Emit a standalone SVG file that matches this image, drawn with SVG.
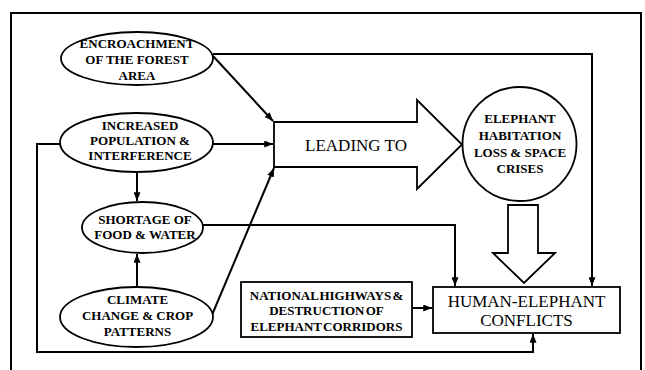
<svg xmlns="http://www.w3.org/2000/svg" width="645" height="370" viewBox="0 0 645 370">
<style>
.sh{fill:#fff;stroke:#000;stroke-width:1.8}
.t{font-family:"Liberation Serif","Times New Roman",serif;font-weight:bold;font-size:13px;text-anchor:middle;fill:#000}
.tn{font-family:"Liberation Serif","Times New Roman",serif;font-size:17px;text-anchor:middle;fill:#000}
.c{fill:none;stroke:#000;stroke-width:2}
</style>
<defs>
<marker id="ah" viewBox="0 0 10 8" refX="10" refY="4" markerWidth="9" markerHeight="7" markerUnits="userSpaceOnUse" orient="auto">
<path d="M0,0 L10,4 L0,8 Z" fill="#000"/>
</marker>
</defs>
<rect width="645" height="370" fill="#fff"/>
<path d="M11,370 V13 H641 V370" fill="none" stroke="#000" stroke-width="2"/>

<g id="connectors">
<path class="c" d="M213,54 H592 V286" marker-end="url(#ah)"/>
<path class="c" d="M213,56 L273,121" marker-end="url(#ah)"/>
<path class="c" d="M213,144 H273" marker-end="url(#ah)"/>
<path class="c" d="M60,144 H37 V352 H533 V334" marker-end="url(#ah)"/>
<path class="c" d="M137,172 V201" marker-end="url(#ah)"/>
<path class="c" d="M137,287 V254" marker-end="url(#ah)"/>
<path class="c" d="M203,225 H455 V286" marker-end="url(#ah)"/>
<path class="c" d="M212,315 L274,168" marker-end="url(#ah)"/>
<path class="c" d="M412,308 H432" marker-end="url(#ah)"/>
</g>

<g id="encroachment">
<ellipse class="sh" cx="137" cy="58.5" rx="76" ry="26.5"/>
<text class="t" x="137" y="47.5">ENCROACHMENT</text>
<text class="t" x="137" y="63.5">OF THE FOREST</text>
<text class="t" x="137" y="79.5">AREA</text>
</g>
<g id="population">
<ellipse class="sh" cx="136.5" cy="142.5" rx="76.5" ry="29.5"/>
<text class="t" x="140" y="129.5">INCREASED</text>
<text class="t" x="140" y="144.5">POPULATION &amp;</text>
<text class="t" x="140" y="159.5">INTERFERENCE</text>
</g>
<g id="shortage">
<ellipse class="sh" cx="142.5" cy="227.5" rx="60.5" ry="25.5"/>
<text class="t" x="145" y="223.5">SHORTAGE OF</text>
<text class="t" x="145" y="238.5">FOOD &amp; WATER</text>
</g>
<g id="climate">
<ellipse class="sh" cx="136.5" cy="317" rx="76.5" ry="30"/>
<text class="t" x="137.5" y="303.5">CLIMATE</text>
<text class="t" x="137.5" y="319.5">CHANGE &amp; CROP</text>
<text class="t" x="137.5" y="335.5">PATTERNS</text>
</g>
<g id="leading">
<path class="sh" d="M274,122 H417 V100 L462,144.5 L417,189 V167 H274 Z"/>
<text class="tn" x="356" y="150.5">LEADING TO</text>
</g>
<g id="habitation">
<circle class="sh" cx="519.5" cy="144" r="57"/>
<text class="t" x="520" y="122.5">ELEPHANT</text>
<text class="t" x="520" y="139.5">HABITATION</text>
<text class="t" x="520" y="156.5">LOSS &amp; SPACE</text>
<text class="t" x="520" y="172.5">CRISES</text>
</g>
<g id="down-arrow">
<path class="sh" d="M508,205 H538 V253 H555 L524,283 L493,253 H508 Z"/>
</g>
<g id="highways">
<rect class="sh" x="241" y="282" width="171" height="55"/>
<text class="t" x="326.5" y="299.5" font-size="12.5" word-spacing="-2">NATIONAL HIGHWAYS &amp;</text>
<text class="t" x="326.5" y="314.5" font-size="12.5" word-spacing="-2">DESTRUCTION OF</text>
<text class="t" x="326.5" y="330.5" font-size="12.5" word-spacing="-2">ELEPHANT CORRIDORS</text>
</g>
<g id="conflicts">
<rect class="sh" x="433" y="287" width="187" height="46"/>
<text class="tn" x="526.5" y="307">HUMAN-ELEPHANT</text>
<text class="tn" x="526.5" y="326">CONFLICTS</text>
</g>
</svg>
